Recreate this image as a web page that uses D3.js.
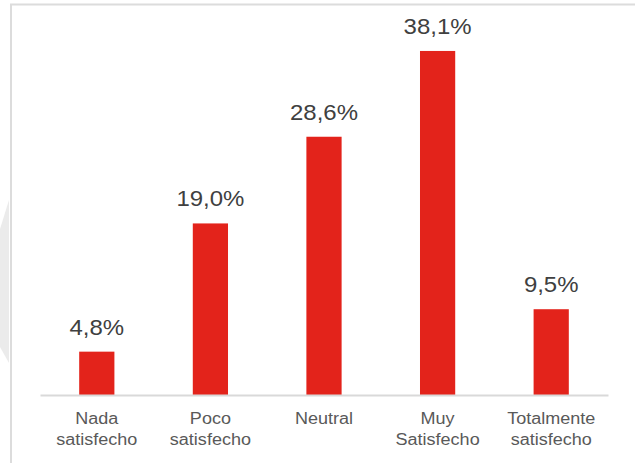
<!DOCTYPE html>
<html><head><meta charset="utf-8">
<script src="https://cdn.jsdelivr.net/npm/d3@7"></script>
<style>html,body{margin:0;padding:0;background:#fff;overflow:hidden}</style>
</head><body>
<svg id="c" width="635" height="463"></svg>
<script>
const categories = [["Nada","satisfecho"],["Poco","satisfecho"],["Neutral"],["Muy","Satisfecho"],["Totalmente","satisfecho"]];
const values = [4.8, 19.0, 28.6, 38.1, 9.5];
const valueLabels = ["4,8%","19,0%","28,6%","38,1%","9,5%"];

const svg = d3.select("#c");
const W = 635, H = 463;
const left = 40, right = 608, base = 395;

// watermark fragment
svg.append("polygon").attr("points","9,200 0,229 0,347 9,363").attr("fill","#ebebeb");
// frame
svg.append("rect").attr("x",11).attr("y",4.5).attr("width",W).attr("height",H)
  .attr("fill","none").attr("stroke","#dcdcdc").attr("stroke-width",2);

const idx = values.map((d,i)=>i);
const x = d3.scaleBand().domain(idx).range([left,right]).paddingInner(0.69).paddingOuter(0.345);
const y = d3.scaleLinear().domain([0,40]).range([base, base-361.2]);

svg.selectAll("rect.bar").data(values).join("rect").attr("class","bar")
  .attr("x",(d,i)=>x(i)).attr("width",x.bandwidth())
  .attr("y",d=>y(d)).attr("height",d=>base-y(d))
  .attr("fill","#e3231b");

// axis line
const xAxis = d3.axisBottom(x).tickSize(0).tickFormat("");
const ax = svg.append("g").attr("transform",`translate(0,${base})`).call(xAxis);
ax.select(".domain").attr("stroke","#d9d9d9").attr("stroke-width",2);

// value labels
svg.selectAll("text.val").data(values).join("text").attr("class","val")
  .attr("transform",(d,i)=>`translate(${x(i)+x.bandwidth()/2},${y(d)-17}) scale(1.09,1)`)
  .attr("text-anchor","middle").attr("font-family","Liberation Sans, Arial, sans-serif")
  .attr("font-size",22).attr("fill","#404040").text((d,i)=>valueLabels[i]);

// category labels
const cg = svg.selectAll("g.cat").data(categories).join("g").attr("class","cat")
  .attr("transform",(d,i)=>`translate(${x(i)+x.bandwidth()/2},424) scale(1.1,1)`);
cg.each(function(d){
  d3.select(this).selectAll("text").data(d).join("text")
    .attr("y",(t,j)=>j*21).attr("text-anchor","middle")
    .attr("font-family","Liberation Sans, Arial, sans-serif")
    .attr("font-size",16.4).attr("fill","#595959").text(t=>t);
});
</script>
</body></html>
